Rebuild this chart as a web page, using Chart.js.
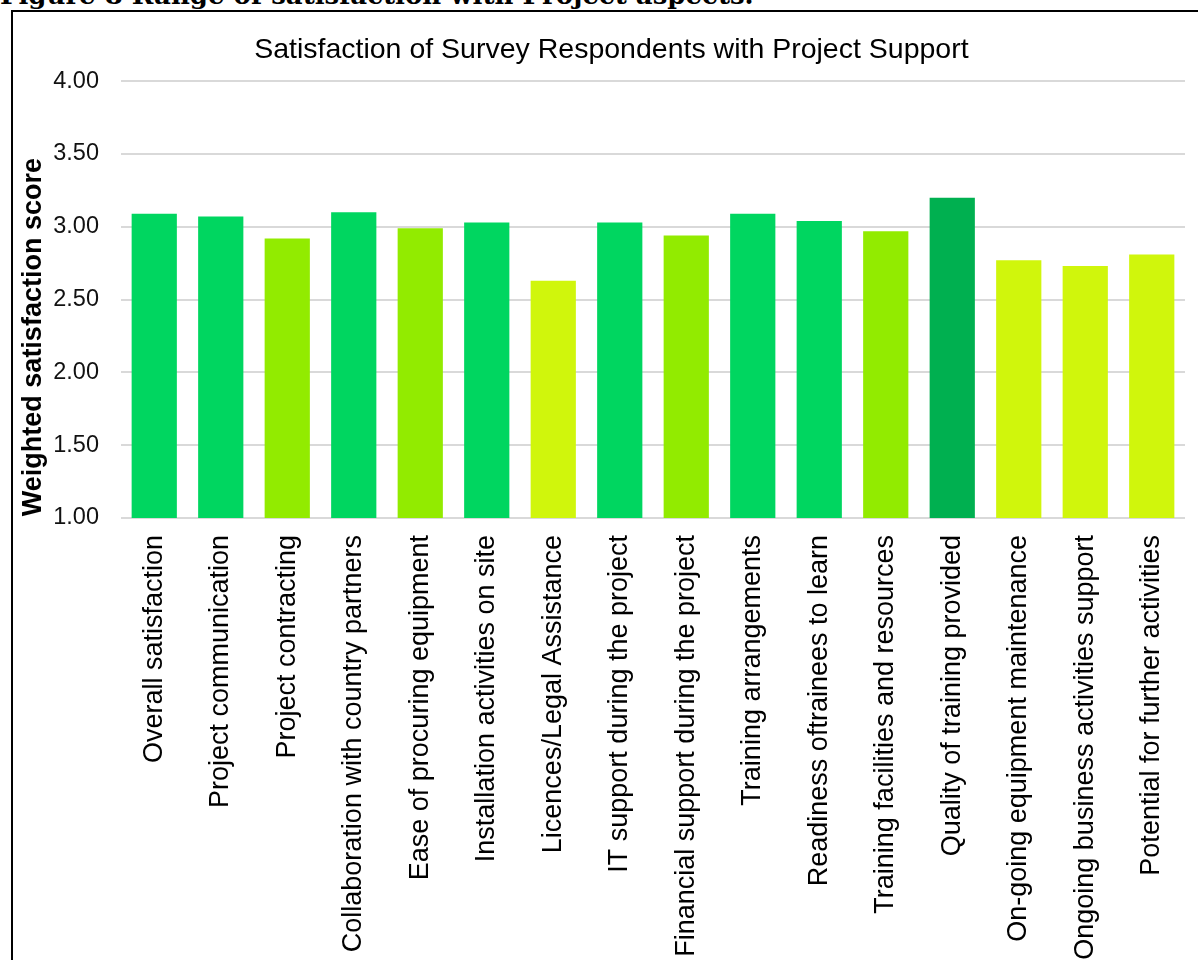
<!DOCTYPE html>
<html lang="en">
<head>
    <meta charset="UTF-8">
    <title>Satisfaction of Survey Respondents with Project Support</title>
    <script src="https://cdn.jsdelivr.net/npm/chart.js"></script>
    <style>
        html, body {
            margin: 0;
            padding: 0;
            background: #fff;
            overflow: hidden;
            width: 1198px;
            height: 960px;
        }
        .caption {
            position: absolute;
            left: 0;
            top: -20px;
            margin: 0;
            font-family: "DejaVu Serif", "Liberation Serif", serif;
            font-weight: bold;
            font-size: 26px;
            line-height: 30px;
            white-space: nowrap;
            color: #000;
        }
        .frame {
            position: absolute;
            left: 11px;
            top: 10px;
            width: 1300px;
            height: 1100px;
            border: 2px solid #000;
        }
        .chart-box {
            position: absolute;
            left: 14px;
            top: 13px;
            width: 1184px;
            height: 1000px;
        }
    </style>
</head>
<body>
    <p class="caption">Figure 8 Range of satisfaction with Project aspects.</p>
    <div class="frame"></div>
    <div class="chart-box">
        <canvas id="satChart"></canvas>
    </div>

    <script>
        // chart data
        var aspects = [
            'Overall satisfaction',
            'Project communication',
            'Project contracting',
            'Collaboration with country partners',
            'Ease of procuring equipment',
            'Installation activities on site',
            'Licences/Legal Assistance',
            'IT support during the project',
            'Financial support during the project',
            'Training arrangements',
            'Readiness oftrainees to learn',
            'Training facilities and resources',
            'Quality of training provided',
            'On-going equipment maintenance',
            'Ongoing business activities support',
            'Potential for further activities'
        ];
        var scores = [3.09, 3.07, 2.92, 3.10, 2.99, 3.03, 2.63, 3.03, 2.94, 3.09, 3.04, 2.97, 3.20, 2.77, 2.73, 2.81];
        // colour band for each bar (as in the original figure)
        var bands = ['high', 'high', 'mid', 'high', 'mid', 'high', 'low', 'high', 'mid', 'high', 'high', 'mid', 'top', 'low', 'low', 'low'];
        var yTicks = [1.00, 1.50, 2.00, 2.50, 3.00, 3.50, 4.00];

        var bandColours = {
            top: '#00b050',
            high: '#00d660',
            mid: '#92eb00',
            low: '#d0f60c'
        };

        var ctx = document.getElementById('satChart').getContext('2d');
        Chart.defaults.font.family = '"Liberation Sans", Arial, sans-serif';
        Chart.defaults.color = '#111';

        var satChart = new Chart(ctx, {
            type: 'bar',
            data: {
                labels: aspects,
                datasets: [{
                    data: scores,
                    backgroundColor: bands.map(function (b) { return bandColours[b]; }),
                    borderWidth: 0,
                    categoryPercentage: 1.0,
                    barPercentage: 0.68
                }]
            },
            options: {
                responsive: true,
                maintainAspectRatio: false,
                animation: false,
                layout: {
                    padding: { left: 0, right: 13, top: 0, bottom: 0 }
                },
                plugins: {
                    legend: { display: false },
                    tooltip: { enabled: false },
                    title: {
                        display: true,
                        // leading spaces nudge the centred title to the right, like the original
                        text: '\u00a0\u00a0\u00a0Satisfaction of Survey Respondents with Project Support',
                        color: '#000',
                        font: { size: 28.5, weight: 'normal' },
                        padding: { top: 20, bottom: 14 }
                    }
                },
                scales: {
                    x: {
                        grid: { display: false },
                        border: { display: false },
                        ticks: {
                            autoSkip: false,
                            minRotation: 90,
                            maxRotation: 90,
                            padding: 9,
                            color: '#000',
                            font: { size: 27 }
                        },
                        afterFit: function (axis) { axis.height = 495; }
                    },
                    y: {
                        min: 1,
                        max: 4,
                        afterBuildTicks: function (axis) {
                            axis.ticks = yTicks.map(function (v) { return { value: v }; });
                        },
                        grid: {
                            color: '#d9d9d9',
                            lineWidth: 2,
                            drawTicks: false
                        },
                        border: { display: false },
                        ticks: {
                            padding: 22,
                            color: '#111',
                            font: { size: 23.5 },
                            callback: function (v) { return Number(v).toFixed(2); }
                        },
                        title: {
                            display: true,
                            text: 'Weighted satisfaction score' + '\u00a0'.repeat(10),
                            color: '#000',
                            font: { size: 27, weight: 'bold' },
                            padding: { top: 3, bottom: 0 }
                        },
                        afterFit: function (axis) { axis.width = 107; }
                    }
                }
            }
        });
    </script>
</body>
</html>
